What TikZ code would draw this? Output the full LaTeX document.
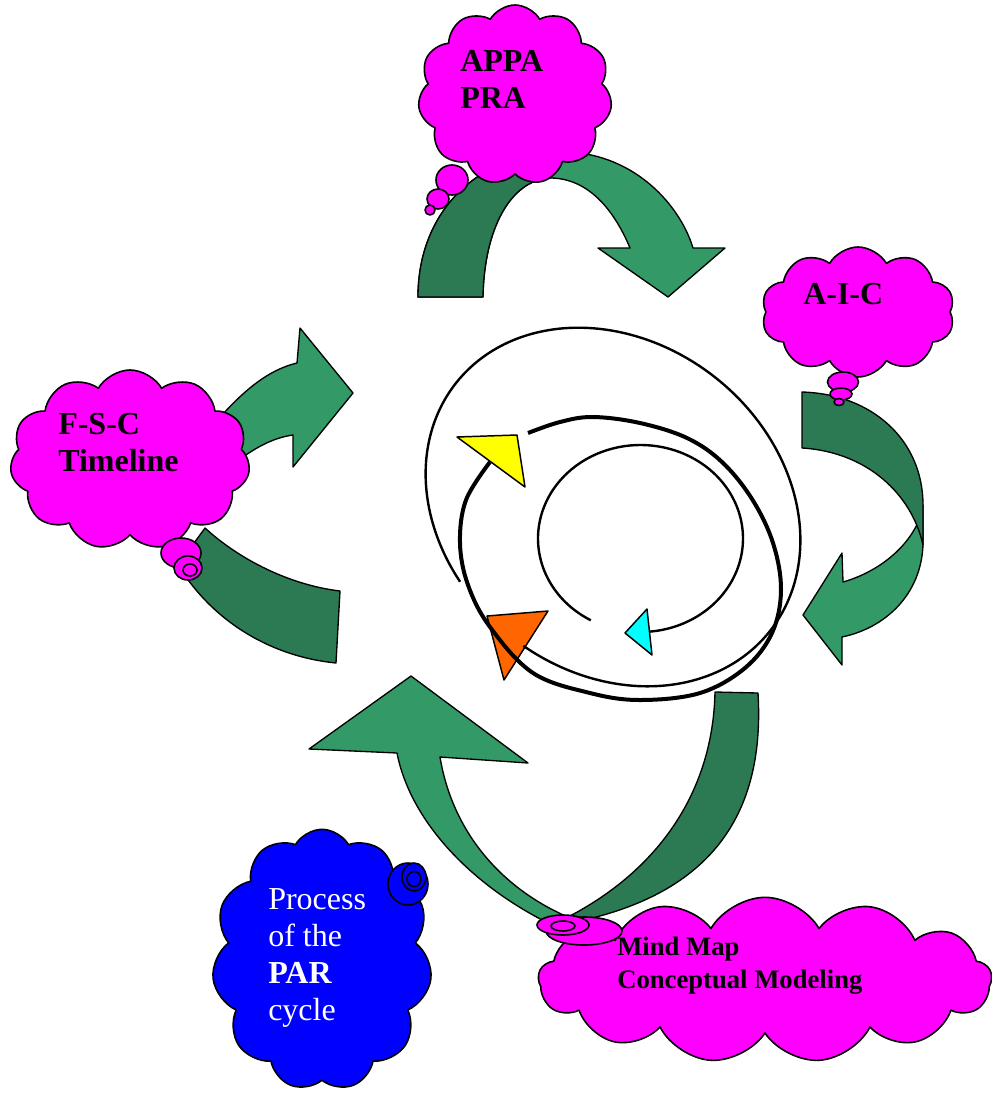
\documentclass[tikz,border=0pt]{standalone}
\usepackage{fontspec}
\setmainfont{Liberation Serif}
\usetikzlibrary{shapes.symbols}
\definecolor{lgreen}{HTML}{339966}
\definecolor{dgreen}{HTML}{2B7A53}
\definecolor{mag}{HTML}{FF00FF}
\definecolor{pblue}{HTML}{0000FF}
\definecolor{orng}{HTML}{FF6600}
\definecolor{yel}{HTML}{FFFF00}
\definecolor{cyn}{HTML}{00FFFF}
\begin{document}
\begin{tikzpicture}[x=0.75pt,y=-0.75pt,line join=round,
  arrowlight/.style={fill=lgreen,draw=black,line width=1pt},
  arrowdark/.style={fill=dgreen,draw=black,line width=1pt},
  cloudbox/.style={cloud,cloud puff arc=120,cloud ignores aspect,draw=black,line width=1.2pt,fill=mag,inner sep=0pt},
  bubble/.style={draw=black,line width=1.2pt,fill=mag},
  cloudtext/.style={anchor=north west,inner sep=0pt,align=left,font=\bfseries\fontsize{24}{27.75}\selectfont},
  loopline/.style={draw=black,line width=1.8pt},
  heavyline/.style={draw=black,line width=3pt},
  tri/.style={draw=black,line width=1.1pt}]
\fill[white] (0,0) rectangle (992,1093);
\useasboundingbox (0,0) rectangle (992,1093);

% central spirals
\draw[tri,fill=yel] (457,437) -- (517,435) -- (525,487) -- cycle;
\draw[tri,fill=orng] (487,616) -- (548,611) -- (504,680) -- cycle;
\draw[tri,fill=cyn] (625,633) -- (647,609) -- (652,655) -- cycle;
% outer thin loop: tilted ellipse
\draw[loopline] plot[smooth,domain=111.6:445.5,samples=120]
  ({613+200*cos(\x)*0.785-165*sin(\x)*0.62},{507+200*cos(\x)*0.62+165*sin(\x)*0.785});
% thick spiral
\draw[heavyline] plot[smooth,tension=0.6] coordinates {(528,433) (560,422) (593,417) (640,423) (687,438) (722,462) (752,499) (773,543) (781,590) (772,633) (745,668) (700,693) (640,700) (590,693) (533,673) (490,627) (468,585) (460,543) (466,500) (490,462)};
% inner circle
\draw[loopline] plot[smooth,domain=119:445,samples=100]
  ({640.5+102.5*cos(\x)},{538.5+93.5*sin(\x)});

% arrow 1 (top)
\path[arrowlight] (418,297) .. controls (418,210) and (480,150) .. (568,152) .. controls (635,155) and (680,205) .. (693,248) -- (725,248) -- (668,297) -- (598,248) -- (630,248) .. controls (612,205) and (585,178) .. (550,178) .. controls (510,180) and (484,230) .. (483,297) -- cycle;
\begin{scope}
\clip (0,0) -- (560,0) -- (545,300) -- (0,300) -- cycle;
\path[arrowdark] (418,297) .. controls (418,210) and (480,150) .. (568,152) .. controls (635,155) and (680,205) .. (693,248) -- (725,248) -- (668,297) -- (598,248) -- (630,248) .. controls (612,205) and (585,178) .. (550,178) .. controls (510,180) and (484,230) .. (483,297) -- cycle;
\end{scope}

% arrow 2 (right)
\path[arrowlight] (923,505) -- (923,545) .. controls (921,595) and (885,628) .. (842,637) -- (842,665) -- (803,615) -- (842,553) -- (843,582) .. controls (878,572) and (908,548) .. (920,518) -- cycle;
\path[arrowdark] (802,392) .. controls (872,394) and (923,440) .. (923,505) -- (923,545) .. controls (912,495) and (868,452) .. (802,448) -- cycle;

% arrow 3 (bottom)
\path[arrowlight] (552,925) .. controls (470,885) and (410,820) .. (397,753) -- (309,749) -- (411,676) -- (528,763) -- (440,757) .. controls (452,830) and (500,890) .. (575,920) -- cycle;
\path[arrowdark] (715,692) -- (758,693) .. controls (765,810) and (715,890) .. (584,920) -- (566,918) .. controls (660,870) and (713,790) .. (715,692) -- cycle;

% arrow 4 (left)
\path[arrowdark] (340,591) -- (336,663) .. controls (275,657) and (215,625) .. (178,565) -- (205,528) .. controls (240,560) and (290,585) .. (340,591) -- cycle;
\path[arrowlight] (222,415) .. controls (245,390) and (268,370) .. (297,363) -- (300,328) -- (353,393) -- (293,467) -- (293,435) .. controls (272,438) and (255,448) .. (236,462) -- cycle;

% clouds
\node[cloudbox,cloud puffs=11,minimum width=145.5pt,minimum height=135pt] (cA) at (515,95) {};
\draw[bubble] (452,180) ellipse [x radius=16,y radius=15];
\draw[bubble] (438,199) ellipse [x radius=11,y radius=10];
\draw[bubble] (430,210) ellipse [x radius=5,y radius=5];

\node[cloudbox,cloud puffs=10,minimum width=145pt,minimum height=97.5pt] (cB) at (858,312) {};
\draw[bubble] (843,382) ellipse [x radius=15.5,y radius=10];
\draw[bubble] (841,394) ellipse [x radius=11,y radius=6];
\draw[bubble] (839,402) ellipse [x radius=5,y radius=3.5];

\node[cloudbox,cloud puffs=11,minimum width=180pt,minimum height=135pt] (cC) at (130,460) {};
\draw[bubble] (181,553) ellipse [x radius=20,y radius=15];
\draw[bubble] (188,568) ellipse [x radius=14,y radius=12];
\draw[bubble] (190,570) ellipse [x radius=7,y radius=6];

\node[cloudbox,cloud puffs=11,fill=pblue,minimum width=165pt,minimum height=196pt] (cD) at (322,960) {};
\draw[bubble,fill=pblue] (408,884) ellipse [x radius=20,y radius=21];
\draw[bubble,fill=pblue] (414,877) ellipse [x radius=12,y radius=14];
\draw[bubble,fill=pblue] (414,879) ellipse [x radius=7,y radius=7.5];

\node[cloudbox,cloud puffs=13,minimum width=340pt,minimum height=124pt] (cE) at (765,980) {};
\draw[bubble] (584,931) ellipse [x radius=38,y radius=14];
\draw[bubble] (563,925) ellipse [x radius=26,y radius=10];
\draw[bubble] (563,926) ellipse [x radius=12,y radius=5];

% texts
\node[cloudtext] (tA) at (460,50) {APPA\\PRA};
\node[cloudtext] (tB) at (803,283) {A-I-C};
\node[cloudtext] (tC) at (58,413) {F-S-C\\Timeline};
\node[cloudtext,font=\fontsize{24}{27.75}\selectfont,text=white] (tD) at (268,888) {Process\\of the\\\textbf{PAR}\\cycle};
\node[cloudtext,font=\bfseries\fontsize{20}{24.75}\selectfont] (tE) at (617,937) {Mind Map\\Conceptual Modeling};
\end{tikzpicture}
\end{document}
